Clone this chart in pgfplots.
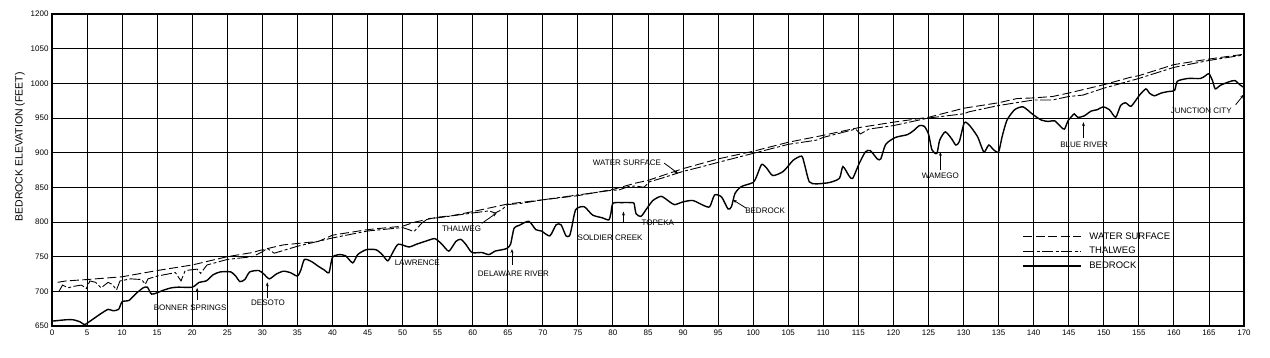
\documentclass[border=0pt]{standalone}
\usepackage{fontspec}
\setmainfont{Liberation Sans}
\usepackage{pgfplots}
\pgfplotsset{compat=1.18}
\usetikzlibrary{arrows.meta}

\pgfplotstableread{
x y
0 657
1 658
2 659
3 659
4 656
4.6 652
5 654
6 661
7 668
8 674
8.7 672
9.5 674
10 685
11 687
12 697
13 705
13.6 706
14.2 696
15 698
16 702
17 705
18 706
20 706
21 713
22 715
23 724
24 728
25.5 728
26.2 722
26.8 714
27.5 717
28.2 728
29.5 730
30.2 725
31 718
32 725
33 729
34 727
35 722
35.5 731
36 746
37 743
38 736
38.8 731
39.5 727
40 749
41 753
41.9 751
42.9 741
43.6 753
44.8 760
46.2 760
47.1 753
47.9 744
48.7 758
49.4 768
50.9 764
52 768
53.2 772
54.6 776
55.6 768
56.6 758
57.6 772
58.3 775
59 768
59.9 756
61.3 756
62.3 753
63.2 758
64.2 760
64.9 762
65.4 768
65.9 791
66.6 795
68 801
69 789
69.8 787
71 780
71.9 796
72.6 796
73.3 780
73.8 780
74.1 791
74.7 818
75.9 822
77.1 810
78.5 806
79.4 803
79.7 812
80 827
81.3 828
82.5 828
83 827
83.3 812
84 808
84.8 819
85.7 831
86.9 837
88.1 829
88.8 825
90 829
91.4 831
92.9 824
93.8 822
94.5 839
95.5 836
96.4 819
96.9 822
97.4 841
98.3 851
100 857
100.5 866
101.2 883
101.9 878
102.8 867
104.3 873
105.7 889
106.9 895
107.3 884
108 858
109 855
110.9 857
112.3 863
112.8 880
113.7 866
114.2 863
115.1 884
116 901
116.7 903
117.7 891
118.2 891
118.9 912
120.3 922
122 926
122.9 932
123.7 939
124.4 938
125 927
125.5 904
126.2 899
126.6 918
127.4 930
128.3 920
128.9 911
129.4 916
130.1 943
130.8 940
132 923
132.9 901
133.6 911
134.3 904
135 901
135.5 923
136.2 947
137.3 962
138.5 966
139.9 955
141.1 947
142.1 945
143 946
143.9 937
144.4 934
144.9 946
145.4 952
145.8 956
146.3 951
147.2 953
148.2 960
149.1 962
149.9 966
150.8 962
151.7 951
152.4 968
153.1 972
153.9 967
155.1 983
156 992
156.5 986
157.2 982
158.2 986
159.1 988
160.1 990
160.5 1003
162 1007
163.8 1007
164.5 1011
165 1014
165.5 1004
165.9 992
166.6 997
167.8 1002
168.7 1004
169.4 998
170 994
}\bedrock

\pgfplotstableread{
x y
0.8 713
2 715
5 717
10 721
15 730
20 738
25 750
28.6 756
30 760
33 767
35 769
38 772
40 781
45 789
50 794
51.8 800
55 807
57 809
60 815
65 826
70 832
75 838
80 847
83.2 856
85 860
90 877
95 891
100 902
105 915
110 925
115 936
120 944
125 951
130 964
135 972
137.6 978
140 979
142.7 981
145 986
150 998
153.9 1009
155 1011
160 1027
165 1035
170 1042
}\water

\pgfplotstableread{
x y
1 700
1.5 709
2.3 705
3 707
4.2 709
4.9 704
5.4 715
6.2 713
7 705
8 713
8.6 710
9.2 702
9.7 715
11.2 718
12.8 717
13.3 710
13.7 718
15 722
17.6 727
18.4 715
19 730
20.7 732
21.2 726
22.1 738
25 746
28.6 750
30 757
30.7 762
31.7 755
35 765
40 777
45 787
50 792
50.9 789
51.6 786
52.8 799
53.7 805
55 806
60 813
62.3 816
63.2 813
64.2 818
64.9 825
67 827
70 832
75 839
80 846
80.8 846
82.2 851
83.2 852
84.4 850
85.2 858
86.9 863
90 873
92.4 879
95 886
100 899
105 912
109 918
110 922
114.6 934
115.3 927
116.5 934
120 939
125 950
130 956
130.8 959
135 968
140 976
142.7 976
145 981
147 983
150 993
155 1007
160 1023
165 1033
170 1041
}\thalweg

\begin{document}
\begin{tikzpicture}
\begin{axis}[
  scale only axis,
  width=1192pt, height=312pt,
  xmin=0, xmax=170, ymin=650, ymax=1100,
  xtick={0,5,...,170},
  ytick={650,700,...,1100},
  yticklabels={650,700,750,800,850,900,950,1000,1050,1200},
  grid=major,
  major grid style={black, line width=0.9pt},
  axis line style={black, line width=1.1pt},
  major tick length=0pt,
  tick label style={font=\fontsize{8}{9}\selectfont},
  /pgf/number format/assume math mode=true,
  /pgf/number format/1000 sep={},
  ylabel={BEDROCK ELEVATION (FEET)},
  ylabel style={font=\fontsize{10.5}{12}\selectfont, at={(axis description cs:-0.027,0.574)}, anchor=center},
  legend style={at={(axis description cs:0.814,0.305)}, anchor=north west, draw=none, fill=none,
    font=\fontsize{9.5}{10}\selectfont, inner sep=0pt, row sep=3.5pt,
    nodes={inner sep=1.5pt}},
  legend cell align=left,
  legend image code/.code={\draw[#1] (0pt,0pt) -- (58pt,0pt);},
  every axis legend/.append style={/tikz/every odd column/.append style={column sep=6pt}},
]
\addplot[black, line width=0.9pt, dash pattern=on 9pt off 3.5pt] table {\water};
\addlegendentry{WATER SURFACE}
\addplot[black, line width=0.9pt, dash pattern=on 11pt off 2.5pt on 3pt off 2.5pt] table {\thalweg};
\addlegendentry{THALWEG}
\addplot[black, line width=1.4pt, smooth, tension=0.4] table {\bedrock};
\addlegendentry{BEDROCK}

\begin{scope}[every node/.style={font=\fontsize{8}{9}\selectfont, inner sep=0.5pt}]
\node at (axis cs:19.7,677) {BONNER SPRINGS};
\node at (axis cs:30.8,683) {DESOTO};
\node at (axis cs:52.1,741) {LAWRENCE};
\node at (axis cs:58.4,790) {THALWEG};
\node at (axis cs:65.8,726) {DELAWARE RIVER};
\node at (axis cs:79.6,778) {SOLDIER CREEK};
\node at (axis cs:86.4,799) {TOPEKA};
\node at (axis cs:82,885) {WATER SURFACE};
\node at (axis cs:101.7,816) {BEDROCK};
\node at (axis cs:126.7,866) {WAMEGO};
\node at (axis cs:147.2,911) {BLUE RIVER};
\node at (axis cs:163.9,960) {JUNCTION CITY};
\end{scope}
\begin{scope}[-{Stealth[length=4pt,width=3pt]}, line width=0.8pt]
\draw (axis cs:20.7,688) -- (axis cs:20.7,705);
\draw (axis cs:30.7,690) -- (axis cs:30.7,713);
\draw (axis cs:61.3,798) -- (axis cs:63.4,813);
\draw (axis cs:65.6,738) -- (axis cs:65.6,761);
\draw (axis cs:81.5,798) -- (axis cs:81.5,815);
\draw (axis cs:87.3,885) -- (axis cs:89.3,870);
\draw (axis cs:99,820) -- (axis cs:97.1,832);
\draw (axis cs:126.7,875) -- (axis cs:126.7,901);
\draw (axis cs:147.1,921) -- (axis cs:147.1,944);
\draw (axis cs:168.8,969) -- (axis cs:170,984);
\end{scope}
\end{axis}
\pgfresetboundingbox
\path[use as bounding box] ([shift={(-52pt,-32pt)}]current axis.south west) rectangle ([shift={(26pt,14pt)}]current axis.north east);
\end{tikzpicture}
\end{document}
